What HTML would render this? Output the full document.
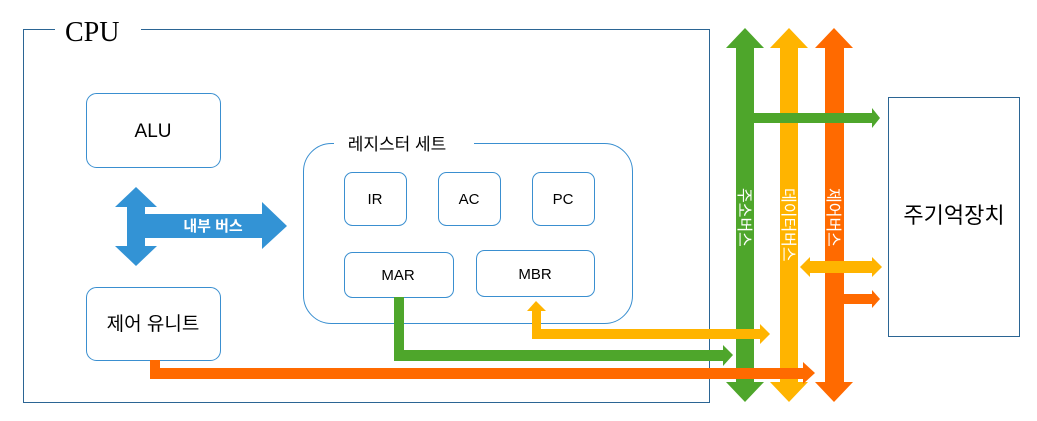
<!DOCTYPE html>
<html><head><meta charset="utf-8"><style>
html,body{margin:0;padding:0;background:#fff;}
svg{display:block;font-family:"Liberation Sans","Noto Sans CJK KR",sans-serif;}
</style></head><body>
<svg width="1037" height="421" viewBox="0 0 1037 421" xmlns="http://www.w3.org/2000/svg">
<rect x="23.5" y="29.5" width="686" height="373" fill="none" stroke="#2b6594" stroke-width="1"/>
<rect x="55" y="18" width="86" height="24" fill="#fff"/>
<text x="65" y="41" font-size="28" font-family="Liberation Serif, serif" fill="#000">CPU</text>

<rect x="86.5" y="93.5" width="134" height="74" rx="10" fill="#fff" stroke="#3a8fd0"/>
<text x="153" y="137" font-size="19" text-anchor="middle">ALU</text>
<rect x="86.5" y="287.5" width="134" height="73" rx="10" fill="#fff" stroke="#3a8fd0"/>
<text x="153" y="330" font-size="19" text-anchor="middle">제어 유니트</text>

<polygon fill="#3393d5" points="136,187 157,207 145,207 145,214 262,214 262,202 287,226 262,249 262,238 145,238 145,246 157,246 136,266 115,246 127,246 127,207 115,207" />
<text x="213" y="231" font-size="15" fill="#fff" font-weight="bold" text-anchor="middle">내부 버스</text>

<rect x="303.5" y="143.5" width="329" height="180" rx="28" fill="#fff" stroke="#3a8fd0"/>
<rect x="334" y="132" width="140" height="22" fill="#fff"/>
<text x="397" y="150" font-size="17" text-anchor="middle">레지스터 세트</text>
<rect x="344.5" y="172.5" width="62" height="53" rx="8" fill="#fff" stroke="#3a8fd0"/>
<text x="375" y="204" font-size="15" text-anchor="middle">IR</text>
<rect x="438.5" y="172.5" width="62" height="53" rx="8" fill="#fff" stroke="#3a8fd0"/>
<text x="469" y="204" font-size="15" text-anchor="middle">AC</text>
<rect x="532.5" y="172.5" width="62" height="53" rx="8" fill="#fff" stroke="#3a8fd0"/>
<text x="563" y="204" font-size="15" text-anchor="middle">PC</text>
<rect x="344.5" y="252.5" width="109" height="45" rx="8" fill="#fff" stroke="#3a8fd0"/>
<text x="398" y="280" font-size="15" text-anchor="middle">MAR</text>
<rect x="476.5" y="250.5" width="118" height="46" rx="8" fill="#fff" stroke="#3a8fd0"/>
<text x="535" y="279" font-size="15" text-anchor="middle">MBR</text>

<polygon fill="#4ea62b" points="745,28 764,48 754,48 754,382 764,382 745,402 726,382 736,382 736,48 726,48"/>
<polygon fill="#ffb400" points="789,28 808,48 798,48 798,382 808,382 789,402 770,382 780,382 780,48 770,48"/>
<polygon fill="#ff6a00" points="834,28 853,48 844,48 844,382 853,382 834,402 815,382 825,382 825,48 815,48"/>

<polygon fill="#ffb400" points="536,301 546,311 541,311 541,329 760,329 760,324 770,334 760,344 760,339 532,339 532,311 527,311"/>
<polygon fill="#4ea62b" points="394,297 404,297 404,350 723,350 723,345 733,355 723,366 723,361 394,361"/>
<polygon fill="#ff6a00" points="150,360 160,360 160,368 803,368 803,362 815,373 803,384 803,379 150,379"/>

<polygon fill="#4ea62b" points="754,113 872,113 872,108 880,118 872,128 872,123 754,123"/>
<polygon fill="#ffb400" points="800,267 810,257 810,261 872,261 872,257 882,267 872,277 872,273 810,273 810,277"/>
<polygon fill="#ff6a00" points="844,294 872,294 872,290 880,299 872,308 872,304 844,304"/>

<text transform="translate(739,188) rotate(90)" font-size="16" fill="#fff">주소버스</text>
<text transform="translate(783,188) rotate(90)" font-size="16" fill="#fff">데이터버스</text>
<text transform="translate(828,188) rotate(90)" font-size="16" fill="#fff">제어버스</text>

<rect x="888.5" y="97.5" width="131" height="239" fill="#fff" stroke="#2b6594"/>
<text x="954" y="223" font-size="22" text-anchor="middle">주기억장치</text>
</svg>
</body></html>
